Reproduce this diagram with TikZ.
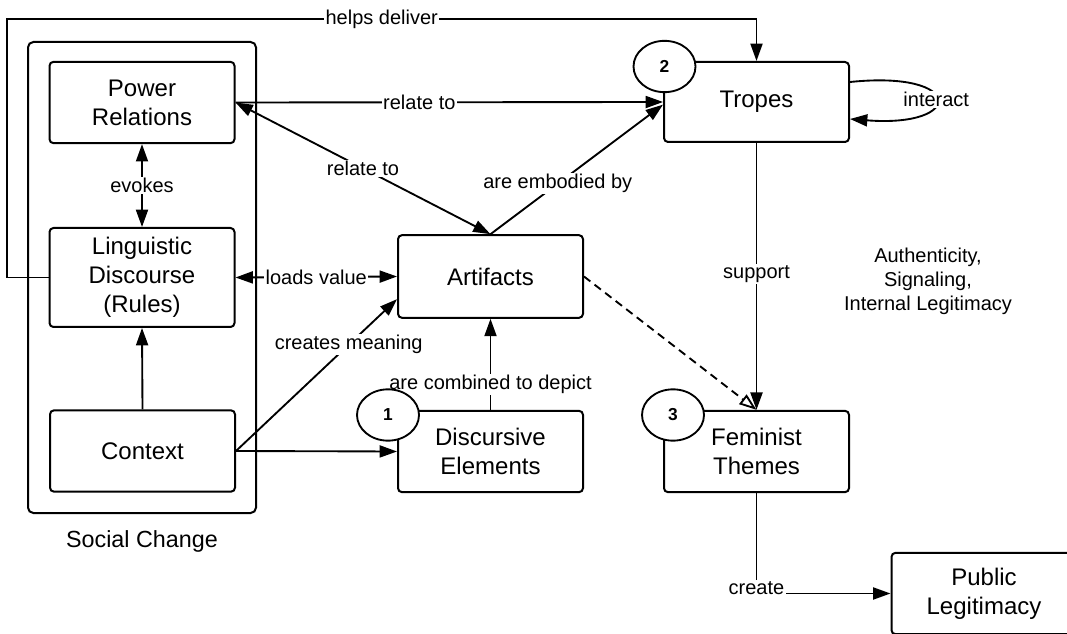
\documentclass[tikz,border=0pt]{standalone}
\usepackage{fontspec}
\setmainfont{Liberation Sans}
\usetikzlibrary{arrows.meta,shapes.geometric}
\begin{document}
\begin{tikzpicture}[x=0.75pt,y=-0.75pt]
\tikzset{
  box/.style={draw, line width=1.5pt, rounded corners=3pt, fill=white, align=center,
    inner sep=0pt, minimum width=138.75pt, minimum height=61pt,
    font=\fontsize{18}{21.75}\selectfont},
  badge/.style={draw, ellipse, line width=1.4pt, fill=white, inner sep=0pt,
    minimum width=46.5pt, minimum height=38.5pt, font=\fontsize{13}{15}\selectfont\bfseries},
  lbl/.style={fill=white, inner sep=1pt, font=\fontsize{15}{18}\selectfont},
  note/.style={align=center, inner sep=0pt, font=\fontsize{15}{18}\selectfont},
  tip/.tip={Triangle[length=13pt,width=9pt]},
  link/.style={line width=1.4pt, -tip},
  twoway/.style={line width=1.4pt, tip-tip},
}
\useasboundingbox (0,0) rectangle (1067,634);
\clip (0,0) rectangle (1067,634);

% grouping frame for the social-change factors
\node[draw, line width=1.5pt, rounded corners=4pt, inner sep=0pt,
      minimum width=171pt, minimum height=353.25pt] (social) at (142,277.5) {};
\node[font=\fontsize{17.5}{21}\selectfont] (socialtxt) at (142,541) {Social Change};

% boxes
\node[box] (power) at (142,102.5) {Power\\Relations};
\node[box, minimum height=74.25pt] (ling) at (142,277.5) {Linguistic\\Discourse\\(Rules)};
\node[box] (context) at (142.5,451) {Context};
\node[box, minimum height=62pt] (artifacts) at (490.5,276.5) {Artifacts};
\node[box] (disc) at (490.5,451.5) {Discursive\\Elements};
\node[box, minimum height=60pt] (tropes) at (756.5,102) {Tropes};
\node[box] (fem) at (756.5,451.5) {Feminist\\Themes};
\node[box] (pub) at (984,593.5) {Public\\Legitimacy};

\node[note] (outcomes) at (928,281) {Authenticity,\\Signaling,\\Internal Legitimacy};

% route of the "helps deliver" link
\coordinate (hdB) at (7,277.5);
\coordinate (hdT) at (7,19);

% connectors
\draw[link] (ling.west) -- (hdB) -- (hdT)
  -- node[lbl]{helps deliver} (tropes.north |- hdT) -- (tropes.north);
\draw[link] (power.east) -- node[lbl, pos=0.43]{relate to} (tropes.west);
\draw[twoway] (power.east) -- node[lbl]{relate to} (artifacts.north);
\draw[link] (artifacts.north) -- node[lbl, pos=0.39]{are embodied by} ([yshift=-2pt]tropes.west);
\draw[twoway] (power.south) -- node[lbl]{evokes} (ling.north);
\draw[link] (context.north) -- (ling.south);
\draw[twoway] (ling.east) -- node[lbl]{loads value} (artifacts.west);
\draw[link] (context.east) -- node[lbl, pos=0.7]{creates meaning} ([yshift=-17pt]artifacts.west);
\draw[link] (context.east) -- (disc.west);
\draw[link] (disc.north) -- node[lbl, pos=0.28]{are combined to depict} (artifacts.south);
\draw[link] (tropes.south) -- node[lbl, pos=0.49]{support} (fem.north);
\draw[line width=1.4pt, dash pattern=on 6pt off 4pt,
      -{Triangle[open,length=13pt,width=9pt]}] (artifacts.east) -- (fem.north);
\draw[link] (fem.south) |- node[lbl, pos=0.5, yshift=4pt]{create} (pub.west);
\draw[link] ([yshift=15pt]tropes.east) .. controls (965,70) and (965,128)
  .. node[lbl]{interact} ([yshift=-12.75pt]tropes.east);

% numbered badges
\node[badge] (n1) at (388,415) {1};
\node[badge] (n2) at (664.5,66.5) {2};
\node[badge] (n3) at (673,415) {3};
\end{tikzpicture}
\end{document}
